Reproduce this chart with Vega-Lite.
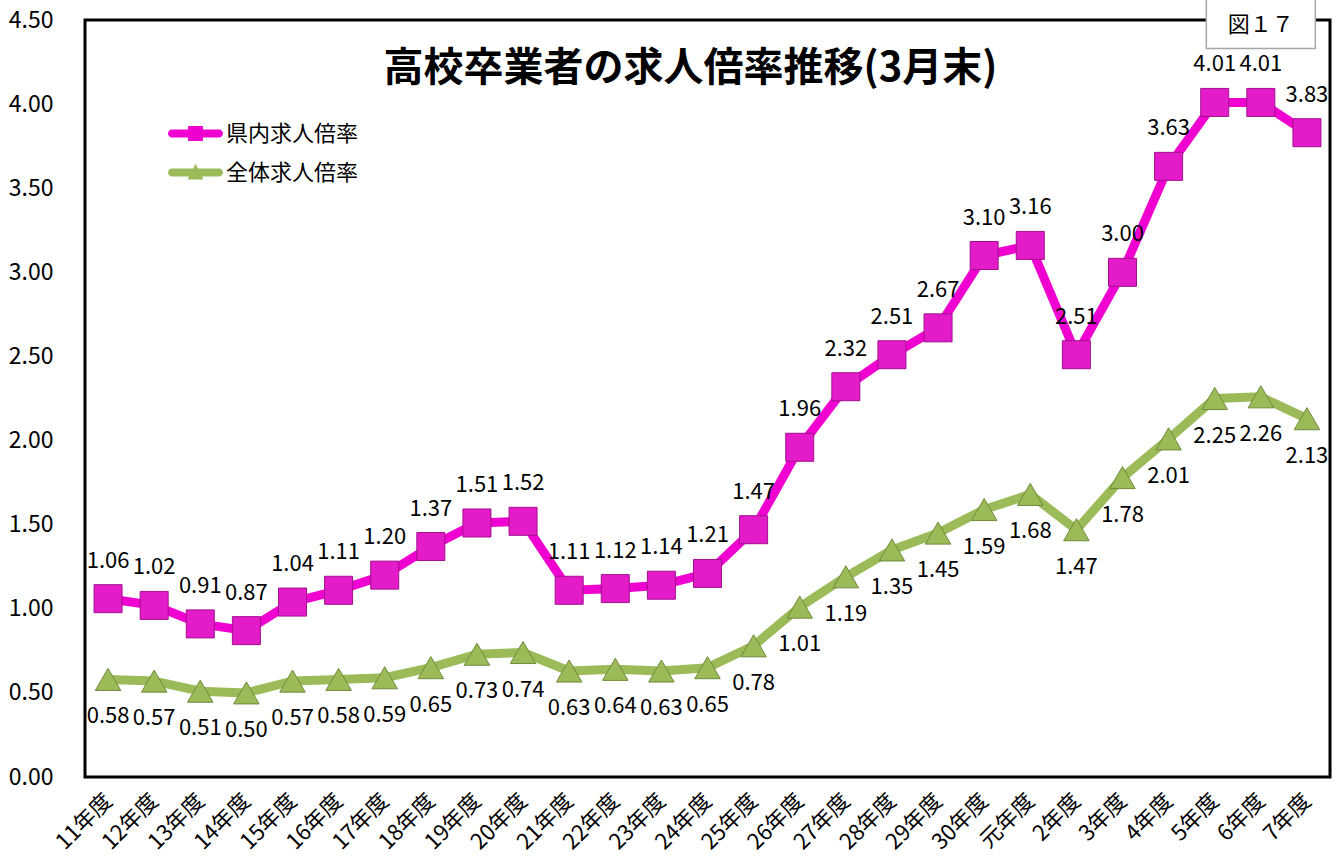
{
  "$schema": "https://vega.github.io/schema/vega-lite/v6.json",
  "width": 1245,
  "height": 757,
  "autosize": {"type": "none"},
  "padding": {"left": 85, "top": 20, "right": 13, "bottom": 85},
  "background": "white",
  "config": {
    "font": "Noto Sans CJK JP",
    "view": {"stroke": "#000000", "strokeWidth": 3},
    "axis": {"labelFont": "Noto Sans CJK JP", "labelColor": "#000000", "ticks": false, "domain": false, "grid": false, "title": null}
  },
  "title": {
    "text": "高校卒業者の求人倍率推移(3月末)",
    "font": "Noto Sans CJK JP",
    "fontSize": 40,
    "fontWeight": "bold",
    "color": "#000000",
    "anchor": "middle",
    "frame": "group",
    "baseline": "middle",
    "offset": -114,
    "dx": -17
  },
  "datasets": {
    "rates": [
      {"year": "11年度", "series": "県内求人倍率", "value": 1.06},
      {"year": "12年度", "series": "県内求人倍率", "value": 1.02},
      {"year": "13年度", "series": "県内求人倍率", "value": 0.91},
      {"year": "14年度", "series": "県内求人倍率", "value": 0.87},
      {"year": "15年度", "series": "県内求人倍率", "value": 1.04},
      {"year": "16年度", "series": "県内求人倍率", "value": 1.11},
      {"year": "17年度", "series": "県内求人倍率", "value": 1.20},
      {"year": "18年度", "series": "県内求人倍率", "value": 1.37},
      {"year": "19年度", "series": "県内求人倍率", "value": 1.51},
      {"year": "20年度", "series": "県内求人倍率", "value": 1.52},
      {"year": "21年度", "series": "県内求人倍率", "value": 1.11},
      {"year": "22年度", "series": "県内求人倍率", "value": 1.12},
      {"year": "23年度", "series": "県内求人倍率", "value": 1.14},
      {"year": "24年度", "series": "県内求人倍率", "value": 1.21},
      {"year": "25年度", "series": "県内求人倍率", "value": 1.47},
      {"year": "26年度", "series": "県内求人倍率", "value": 1.96},
      {"year": "27年度", "series": "県内求人倍率", "value": 2.32},
      {"year": "28年度", "series": "県内求人倍率", "value": 2.51},
      {"year": "29年度", "series": "県内求人倍率", "value": 2.67},
      {"year": "30年度", "series": "県内求人倍率", "value": 3.10},
      {"year": "元年度", "series": "県内求人倍率", "value": 3.16},
      {"year": "2年度", "series": "県内求人倍率", "value": 2.51},
      {"year": "3年度", "series": "県内求人倍率", "value": 3.00},
      {"year": "4年度", "series": "県内求人倍率", "value": 3.63},
      {"year": "5年度", "series": "県内求人倍率", "value": 4.01},
      {"year": "6年度", "series": "県内求人倍率", "value": 4.01},
      {"year": "7年度", "series": "県内求人倍率", "value": 3.83},
      {"year": "11年度", "series": "全体求人倍率", "value": 0.58},
      {"year": "12年度", "series": "全体求人倍率", "value": 0.57},
      {"year": "13年度", "series": "全体求人倍率", "value": 0.51},
      {"year": "14年度", "series": "全体求人倍率", "value": 0.50},
      {"year": "15年度", "series": "全体求人倍率", "value": 0.57},
      {"year": "16年度", "series": "全体求人倍率", "value": 0.58},
      {"year": "17年度", "series": "全体求人倍率", "value": 0.59},
      {"year": "18年度", "series": "全体求人倍率", "value": 0.65},
      {"year": "19年度", "series": "全体求人倍率", "value": 0.73},
      {"year": "20年度", "series": "全体求人倍率", "value": 0.74},
      {"year": "21年度", "series": "全体求人倍率", "value": 0.63},
      {"year": "22年度", "series": "全体求人倍率", "value": 0.64},
      {"year": "23年度", "series": "全体求人倍率", "value": 0.63},
      {"year": "24年度", "series": "全体求人倍率", "value": 0.65},
      {"year": "25年度", "series": "全体求人倍率", "value": 0.78},
      {"year": "26年度", "series": "全体求人倍率", "value": 1.01},
      {"year": "27年度", "series": "全体求人倍率", "value": 1.19},
      {"year": "28年度", "series": "全体求人倍率", "value": 1.35},
      {"year": "29年度", "series": "全体求人倍率", "value": 1.45},
      {"year": "30年度", "series": "全体求人倍率", "value": 1.59},
      {"year": "元年度", "series": "全体求人倍率", "value": 1.68},
      {"year": "2年度", "series": "全体求人倍率", "value": 1.47},
      {"year": "3年度", "series": "全体求人倍率", "value": 1.78},
      {"year": "4年度", "series": "全体求人倍率", "value": 2.01},
      {"year": "5年度", "series": "全体求人倍率", "value": 2.25},
      {"year": "6年度", "series": "全体求人倍率", "value": 2.26},
      {"year": "7年度", "series": "全体求人倍率", "value": 2.13}
    ]
  },
  "data": {"name": "rates"},
  "encoding": {
    "x": {
      "field": "year",
      "type": "ordinal",
      "sort": null,
      "scale": {"type": "point", "padding": 0.5},
      "axis": {"labelAngle": -45, "labelAlign": "right", "labelBaseline": "middle", "labelFontSize": 22, "labelPadding": 20}
    },
    "y": {
      "field": "value",
      "type": "quantitative",
      "scale": {"domain": [0, 4.5], "nice": false, "zero": true},
      "axis": {"values": [0, 0.5, 1, 1.5, 2, 2.5, 3, 3.5, 4, 4.5], "format": ".2f", "labelFontSize": 23, "labelPadding": 32}
    }
  },
  "layer": [
    {
      "transform": [{"filter": "datum.series === '全体求人倍率'"}],
      "mark": {"type": "line", "color": "#9BBB59", "strokeWidth": 9, "strokeCap": "round", "strokeJoin": "round"}
    },
    {
      "transform": [{"filter": "datum.series === '県内求人倍率'"}],
      "mark": {"type": "line", "color": "#F000D0", "strokeWidth": 9, "strokeCap": "round", "strokeJoin": "round"}
    },
    {
      "transform": [{"filter": "datum.series === '全体求人倍率'"}],
      "mark": {"type": "point", "shape": "triangle-up", "filled": true, "fill": "#9BBB59", "stroke": "#6F8A3A", "strokeWidth": 1, "size": 650, "opacity": 1}
    },
    {
      "transform": [{"filter": "datum.series === '県内求人倍率'"}],
      "mark": {"type": "point", "shape": "square", "filled": true, "fill": "#E41BC9", "stroke": "#A0108C", "strokeWidth": 1, "size": 784, "opacity": 1}
    },
    {
      "transform": [{"filter": "datum.series === '県内求人倍率'"}],
      "mark": {"type": "text", "dy": -38, "fontSize": 22, "font": "Noto Sans CJK JP", "color": "#000000"},
      "encoding": {"text": {"field": "value", "type": "quantitative", "format": ".2f"}}
    },
    {
      "transform": [{"filter": "datum.series === '全体求人倍率'"}],
      "mark": {"type": "text", "dy": 37, "fontSize": 22, "font": "Noto Sans CJK JP", "color": "#000000"},
      "encoding": {"text": {"field": "value", "type": "quantitative", "format": ".2f"}}
    },
    {
      "mark": {"type": "point", "filled": true, "opacity": 0},
      "encoding": {
        "color": {
          "field": "series",
          "type": "nominal",
          "scale": {"domain": ["県内求人倍率", "全体求人倍率"], "range": ["#F000D0", "#9BBB59"]},
          "legend": {
            "title": null,
            "orient": "none",
            "legendX": 83,
            "legendY": 86,
            "symbolSize": 3025,
            "symbolStrokeWidth": 0,
            "labelFontSize": 22,
            "labelFont": "Noto Sans CJK JP",
            "labelColor": "#000000",
            "labelOffset": 3,
            "rowPadding": -15,
            "encode": {"symbols": {"update": {"opacity": {"value": 1}, "fillOpacity": {"value": 1}}}}
          }
        },
        "shape": {
          "field": "series",
          "type": "nominal",
          "scale": {
            "domain": ["県内求人倍率", "全体求人倍率"],
            "range": [
              "M-0.855,-0.145H0.855A0.145,0.145 0 0 1 0.855,0.145H-0.855A0.145,0.145 0 0 1 -0.855,-0.145Z M-0.27,-0.27H0.27V0.27H-0.27Z",
              "M-0.855,-0.145H0.855A0.145,0.145 0 0 1 0.855,0.145H-0.855A0.145,0.145 0 0 1 -0.855,-0.145Z M0,-0.32L0.29,0.25L-0.29,0.25Z"
            ]
          }
        }
      }
    },
    {
      "transform": [{"filter": "datum.series === '県内求人倍率' && datum.year === '6年度'"}],
      "mark": {"type": "point", "shape": "M-1,-0.459H1V0.459H-1Z", "filled": true, "fill": "#FFFFFF", "stroke": "#A6A6A6", "strokeWidth": 1.5, "size": 11881, "opacity": 1},
      "encoding": {
        "y": {"datum": 4.48}
      }
    },
    {
      "transform": [{"filter": "datum.series === '県内求人倍率' && datum.year === '6年度'"}],
      "mark": {"type": "text", "fontSize": 22, "font": "Noto Sans CJK JP", "color": "#000000", "dy": 2},
      "encoding": {
        "y": {"datum": 4.48},
        "text": {"datum": "図１７"}
      }
    }
  ]
}
